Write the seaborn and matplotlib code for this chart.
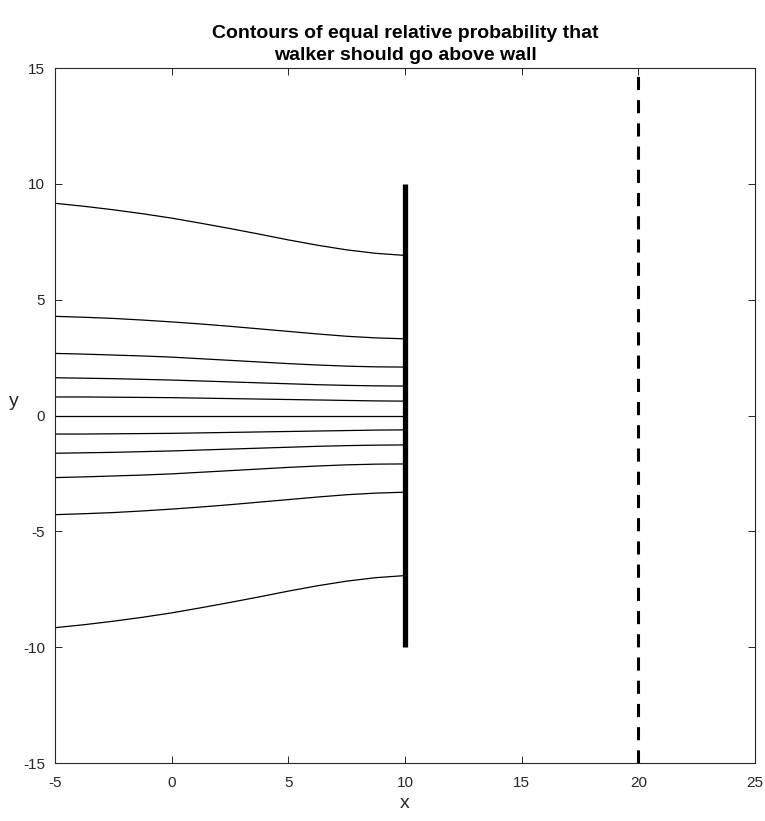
import numpy as np
import pandas as pd
import matplotlib
matplotlib.use("Agg")
import matplotlib.pyplot as plt
import seaborn as sns

# x positions at which each contour was sampled
x_samples = [-5.0, -3.75, -2.5, -1.25, 0.0, 1.25, 2.5, 3.75, 5.0, 6.25, 7.5, 8.75, 10.0]

# y values of the upper contours (lower ones are their mirror images)
c1 = [9.16, 9.03, 8.88, 8.71, 8.52, 8.30, 8.07, 7.83, 7.58, 7.35, 7.15, 7.00, 6.91]
c2 = [4.28, 4.24, 4.19, 4.12, 4.04, 3.95, 3.85, 3.74, 3.63, 3.52, 3.42, 3.35, 3.31]
c3 = [2.68, 2.65, 2.61, 2.57, 2.52, 2.45, 2.38, 2.31, 2.24, 2.18, 2.13, 2.10, 2.09]
c4 = [1.63, 1.61, 1.59, 1.56, 1.53, 1.49, 1.45, 1.41, 1.37, 1.33, 1.30, 1.28, 1.27]
c5 = [0.80, 0.80, 0.79, 0.78, 0.77, 0.75, 0.73, 0.71, 0.69, 0.67, 0.65, 0.63, 0.62]
c0 = [0.0] * len(x_samples)

upper = [c1, c2, c3, c4, c5]

# wall and absorbing barrier
wall_x = [10, 10]
wall_y = [-10, 10]
barrier_x = [20, 20]
barrier_y = [-15, 15]

x_ticks = [-5, 0, 5, 10, 15, 20, 25]
y_ticks = [-15, -10, -5, 0, 5, 10, 15]

rows = []
level = 0
for ys in upper:
    for xv, yv in zip(x_samples, ys):
        rows.append({"x": xv, "y": yv, "level": level})
    level += 1
    for xv, yv in zip(x_samples, ys):
        rows.append({"x": xv, "y": -yv, "level": level})
    level += 1
for xv, yv in zip(x_samples, c0):
    rows.append({"x": xv, "y": yv, "level": level})
contours = pd.DataFrame(rows)

sns.set_theme(style="white")
plt.rcParams["font.family"] = ["Liberation Sans", "DejaVu Sans"]

axis_col = (0.15, 0.15, 0.15)

fig = plt.figure(figsize=(7.65, 8.21), dpi=100)
ax = fig.add_axes([55 / 765, 58 / 821, 700 / 765, 695 / 821])

sns.lineplot(data=contours, x="x", y="y", units="level", estimator=None,
             color="black", linewidth=0.9, sort=False, ax=ax, legend=False)
sns.lineplot(x=wall_x, y=wall_y, color="black", linewidth=3.8, ax=ax,
             estimator=None, sort=False, solid_capstyle="butt")
ax.plot(barrier_x, barrier_y, color="black", linewidth=2.2,
        dashes=(4.3, 3.3), dash_capstyle="butt")

ax.set_xlim(-5, 25)
ax.set_ylim(-15, 15)
ax.set_xticks(x_ticks)
ax.set_yticks(y_ticks)
ax.set_xticklabels([str(t) for t in x_ticks])
ax.set_yticklabels([str(t) for t in y_ticks])

for s in ax.spines.values():
    s.set_color(axis_col)
    s.set_linewidth(0.8)
    s.set_visible(True)

ax.tick_params(axis="both", which="both", direction="in", length=5, width=0.7,
               color=axis_col, labelcolor=axis_col, labelsize=11,
               top=True, right=True, bottom=True, left=True)
ax.tick_params(axis="x", pad=9)
ax.tick_params(axis="y", pad=7)

ax.set_xlabel("x", fontsize=14, color=axis_col, va="center", ha="center")
ax.set_ylabel("y", fontsize=14, color=axis_col, rotation=0, va="center", ha="center")
ax.xaxis.set_label_coords(0.5, -0.058)
ax.yaxis.set_label_coords(-0.059, 0.52)

ax.set_title("Contours of equal relative probability that\nwalker should go above wall",
             fontsize=14, fontweight="bold", color="black", pad=6, linespacing=1.35)

fig.savefig("out.png", dpi=100)
